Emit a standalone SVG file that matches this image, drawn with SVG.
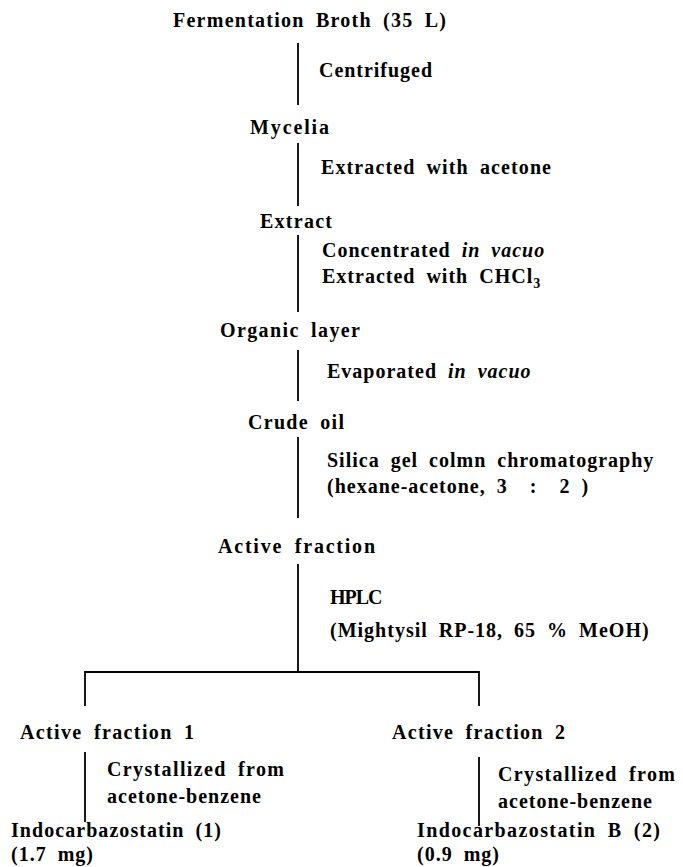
<svg xmlns="http://www.w3.org/2000/svg" width="683" height="867" viewBox="0 0 683 867">
<style>
  text { font-family: "Liberation Serif", "Times New Roman", serif; font-weight: bold; font-size: 20px; fill: #000; letter-spacing: 1px; word-spacing: 5px; }
  .it { font-style: italic; }
  .sub { font-size: 14px; }
  .conn line, .conn polyline { stroke: #000; stroke-width: 1.8; fill: none; }
</style>
<rect width="683" height="867" fill="#fff"/>
<g id="connectors" class="conn">
  <line x1="298" y1="43" x2="298" y2="105"/>
  <line x1="298" y1="143" x2="298" y2="206"/>
  <line x1="298" y1="235" x2="298" y2="312"/>
  <line x1="298" y1="350" x2="298" y2="401"/>
  <line x1="298" y1="437" x2="298" y2="518"/>
  <line x1="298" y1="564" x2="298" y2="672"/>
  <polyline points="85,706 85,672 479,672 479,706"/>
  <line x1="85" y1="752" x2="85" y2="822"/>
  <line x1="479" y1="757" x2="479" y2="826"/>
</g>
<g id="n-broth"><text x="173" y="27" textLength="274" lengthAdjust="spacing">Fermentation Broth (35 L)</text></g>
<g id="e-centrifuged"><text x="319" y="77" textLength="114" lengthAdjust="spacing">Centrifuged</text></g>
<g id="n-mycelia"><text x="250" y="134" textLength="80" lengthAdjust="spacing">Mycelia</text></g>
<g id="e-acetone"><text x="321" y="174" textLength="231" lengthAdjust="spacing">Extracted with acetone</text></g>
<g id="n-extract"><text x="260" y="228" textLength="73" lengthAdjust="spacing">Extract</text></g>
<g id="e-concentrated">
  <text x="322" y="257">Concentrated <tspan class="it">in vacuo</tspan></text>
  <text x="322" y="283">Extracted with CHCl<tspan class="sub" dy="5">3</tspan></text>
</g>
<g id="n-organic"><text x="220" y="337" textLength="141" lengthAdjust="spacing">Organic layer</text></g>
<g id="e-evaporated"><text x="327" y="378">Evaporated <tspan class="it">in vacuo</tspan></text></g>
<g id="n-crude"><text x="248" y="429" textLength="97" lengthAdjust="spacing">Crude oil</text></g>
<g id="e-silica">
  <text x="327" y="467">Silica gel colmn chromatography</text>
  <text x="327" y="493" xml:space="preserve">(hexane-acetone, 3  :  2 )</text>
</g>
<g id="n-active"><text x="218" y="553" textLength="158" lengthAdjust="spacing">Active fraction</text></g>
<g id="e-hplc">
  <text x="330" y="604" style="letter-spacing:-1px">HPLC</text>
  <text x="330" y="637">(Mightysil RP-18, 65 % MeOH)</text>
</g>
<g id="n-active1"><text x="20" y="739" textLength="175" lengthAdjust="spacing">Active fraction 1</text></g>
<g id="n-active2"><text x="392" y="739" textLength="174" lengthAdjust="spacing">Active fraction 2</text></g>
<g id="e-cryst1">
  <text x="107" y="776" textLength="178" lengthAdjust="spacing">Crystallized from</text>
  <text x="107" y="803">acetone-benzene</text>
</g>
<g id="e-cryst2">
  <text x="498" y="781" textLength="178" lengthAdjust="spacing">Crystallized from</text>
  <text x="498" y="808">acetone-benzene</text>
</g>
<g id="n-indo1">
  <text x="11" y="837" textLength="211" lengthAdjust="spacing">Indocarbazostatin (1)</text>
  <text x="11" y="861">(1.7 mg)</text>
</g>
<g id="n-indo2">
  <text x="417" y="837" textLength="244" lengthAdjust="spacing">Indocarbazostatin B (2)</text>
  <text x="417" y="861">(0.9 mg)</text>
</g>
</svg>
